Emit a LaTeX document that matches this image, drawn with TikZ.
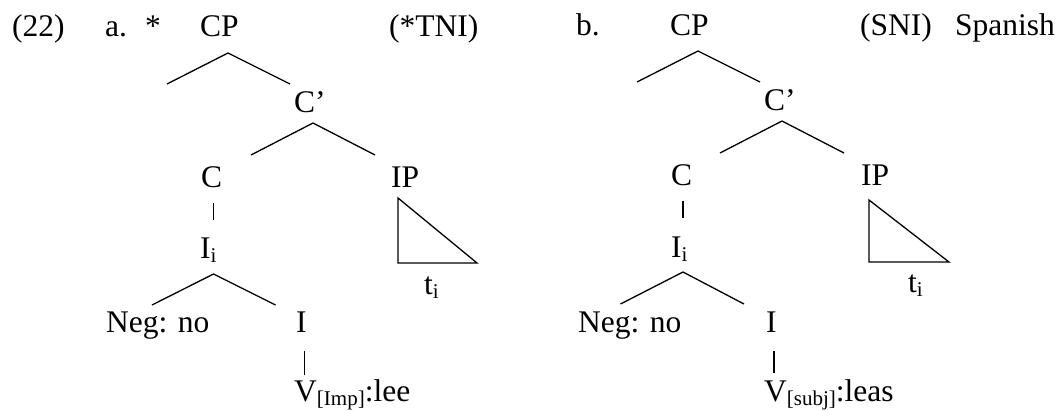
\documentclass[tikz,border=0pt]{standalone}
\usepackage{fontspec}
\setmainfont{Liberation Serif}
\newcommand\sbs[1]{\raisebox{-4pt}{\fontsize{21}{24}\selectfont #1}}
\begin{document}
\begin{tikzpicture}[x=1pt,y=-1pt,
  lbl/.style={inner sep=0pt,anchor=base west,font=\fontsize{31.5}{36}\selectfont},
  br/.style={line width=1.3pt}]
\useasboundingbox (0,0) rectangle (1058,410);
% ---------- tree a ----------
\node[lbl] (ex) at (12,36) {(22)};
\node[lbl] (la) at (105,36) {a.};
\node[lbl] (st) at (145,36) {*};
\node[lbl] (cpa) at (200,36) {CP};
\node[lbl] (tni) at (389,36) {(*TNI)};
\node[lbl] (cba) at (294,112) {C’};
\node[lbl] (ca) at (201,187) {C};
\node[lbl] (ipa) at (391,187) {IP};
\node[lbl] (iia) at (200,258) {I\sbs{i}};
\node[lbl] (nga) at (106,332) {Neg: no};
\node[lbl] (ia) at (296,332) {I};
\node[lbl] (va) at (294,401) {V\sbs{[Imp]}:lee};
\node[lbl] (tia) at (424,294) {t\sbs{i}};
\coordinate (a1) at (228,53); \coordinate (a1l) at (167,84); \coordinate (a1r) at (290,84);
\coordinate (a2) at (313,123); \coordinate (a2l) at (251,155); \coordinate (a2r) at (375,155);
\coordinate (a3t) at (213.5,203); \coordinate (a3b) at (213.5,220);
\coordinate (a4) at (213.5,274); \coordinate (a4l) at (152,305); \coordinate (a4r) at (275.5,305);
\coordinate (a5t) at (304.5,351); \coordinate (a5b) at (304.5,375);
\coordinate (ta1) at (398,198); \coordinate (ta2) at (398,263); \coordinate (ta3) at (477,263);
\draw[br] (a1l) -- (a1) -- (a1r);
\draw[br] (a2l) -- (a2) -- (a2r);
\draw[br] (a3t) -- (a3b);
\draw[br] (a4l) -- (a4) -- (a4r);
\draw[br] (a5t) -- (a5b);
\draw[br] (ta1) -- (ta2) -- (ta3) -- cycle;
% ---------- tree b ----------
\node[lbl] (lb) at (576,35) {b.};
\node[lbl] (cpb) at (670,35) {CP};
\node[lbl] (sni) at (860,35) {(SNI)};
\node[lbl] (spa) at (955,35) {Spanish};
\node[lbl] (cbb) at (764,110) {C’};
\node[lbl] (cb) at (671,185) {C};
\node[lbl] (ipb) at (861,185) {IP};
\node[lbl] (iib) at (671,257) {I\sbs{i}};
\node[lbl] (ngb) at (578,332) {Neg: no};
\node[lbl] (ib) at (766,332) {I};
\node[lbl] (vb) at (764,401) {V\sbs{[subj]}:leas};
\node[lbl] (tib) at (908,292) {t\sbs{i}};
\coordinate (b1) at (698,51); \coordinate (b1l) at (637,82); \coordinate (b1r) at (760,82);
\coordinate (b2) at (782,121); \coordinate (b2l) at (720,153); \coordinate (b2r) at (844,153);
\coordinate (b3t) at (683,201); \coordinate (b3b) at (683,218);
\coordinate (b4) at (683,272); \coordinate (b4l) at (620.5,304); \coordinate (b4r) at (744,304);
\coordinate (b5t) at (774,351); \coordinate (b5b) at (774,373);
\coordinate (tb1) at (869,200); \coordinate (tb2) at (869,262); \coordinate (tb3) at (949,262);
\draw[br] (b1l) -- (b1) -- (b1r);
\draw[br] (b2l) -- (b2) -- (b2r);
\draw[br] (b3t) -- (b3b);
\draw[br] (b4l) -- (b4) -- (b4r);
\draw[br] (b5t) -- (b5b);
\draw[br] (tb1) -- (tb2) -- (tb3) -- cycle;
\end{tikzpicture}
\end{document}
